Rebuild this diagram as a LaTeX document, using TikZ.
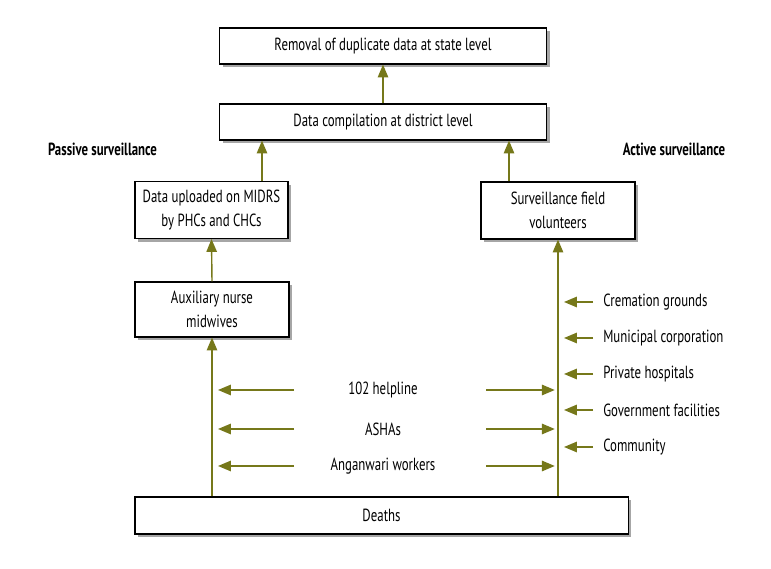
\documentclass[tikz,border=0pt]{standalone}
\usepackage{fontspec}
\setmainfont{PT Sans}[FakeStretch=0.73]
\usepackage{tikz}
\usetikzlibrary{arrows.meta,shadows}
\definecolor{olivearrow}{RGB}{118,120,26}

\begin{document}
\begin{tikzpicture}[x=0.025cm,y=-0.025cm]
        \tikzstyle{every node} = [rectangle, font=\fontsize{12.5}{17}\selectfont]
        \tikzstyle{box} = [draw, line width=0.8pt, fill=white, align=center, inner sep=2pt,
            drop shadow={shadow xshift=0.08cm, shadow yshift=-0.08cm, fill=black!35, opacity=1}]
        \tikzstyle{arr} = [draw=olivearrow, line width=1pt,
            -{Triangle[length=0.32cm, width=0.26cm]}, color=olivearrow]
        \useasboundingbox (0,0) rectangle (771,569);
        % boxes
        \node[box, minimum width=8.175cm, minimum height=0.9cm] (state) at (383,46) {Removal of duplicate data at state level};
        \node[box, minimum width=8.175cm, minimum height=0.9cm] (district) at (383,122) {Data compilation at district level};
        \node[box, minimum width=3.825cm, minimum height=1.425cm] (midrs) at (211.5,210) {Data uploaded on MIDRS\\by PHCs and CHCs};
        \node[box, minimum width=3.85cm, minimum height=1.425cm] (sfv) at (558,210.5) {Surveillance field\\volunteers};
        \node[box, minimum width=3.85cm, minimum height=1.375cm] (anm) at (212,309.5) {Auxiliary nurse\\midwives};
        \node[box, minimum width=12.325cm, minimum height=0.925cm] (deaths) at (381.5,515.5) {Deaths};
        \node[font=\fontsize{12.5}{17}\selectfont\bfseries] (passive) at (102.5,149) {Passive surveillance};
        \node[font=\fontsize{12.5}{17}\selectfont\bfseries] (active) at (674,149) {Active surveillance};
        % upward flow
        \coordinate (lx) at (262,0);
        \coordinate (rx) at (509,0);
        \draw[arr] (district.north) -- (state.south);
        \draw[arr] (lx |- midrs.north) -- (lx |- district.south);
        \draw[arr] (rx |- sfv.north) -- (rx |- district.south);
        \draw[arr] (anm.north) -- (midrs.south);
        \draw[arr] (anm.south |- deaths.north) -- (anm.south);
        \draw[arr] (sfv.south |- deaths.north) -- (sfv.south);
        % sources feeding both sides
        \foreach \y/\name/\txt in {390/helpline/102 helpline, 429/asha/ASHAs, 466/awc/Anganwari workers} {
            \node (\name) at (383,\y) {\txt};
            \coordinate (\name l) at (294,\y);
            \coordinate (\name r) at (486,\y);
            \draw[arr, shorten >=0.15cm] (\name l) -- (anm.south |- \name);
            \draw[arr, shorten >=0.08cm] (\name r) -- (sfv.south |- \name);
        }
        % sources of active surveillance
        \foreach \y/\name/\txt in {302/crem/Cremation grounds, 338/muni/Municipal corporation,
                374/priv/Private hospitals, 410/govt/Government facilities, 447/comm/Community} {
            \node[anchor=west, inner sep=0pt] (\name) at (603,\y) {\txt};
            \coordinate (\name s) at (593,\y);
            \draw[arr, shorten >=0.15cm] (\name s) -- (sfv.south |- \name);
        }
    \end{tikzpicture}
\end{document}
